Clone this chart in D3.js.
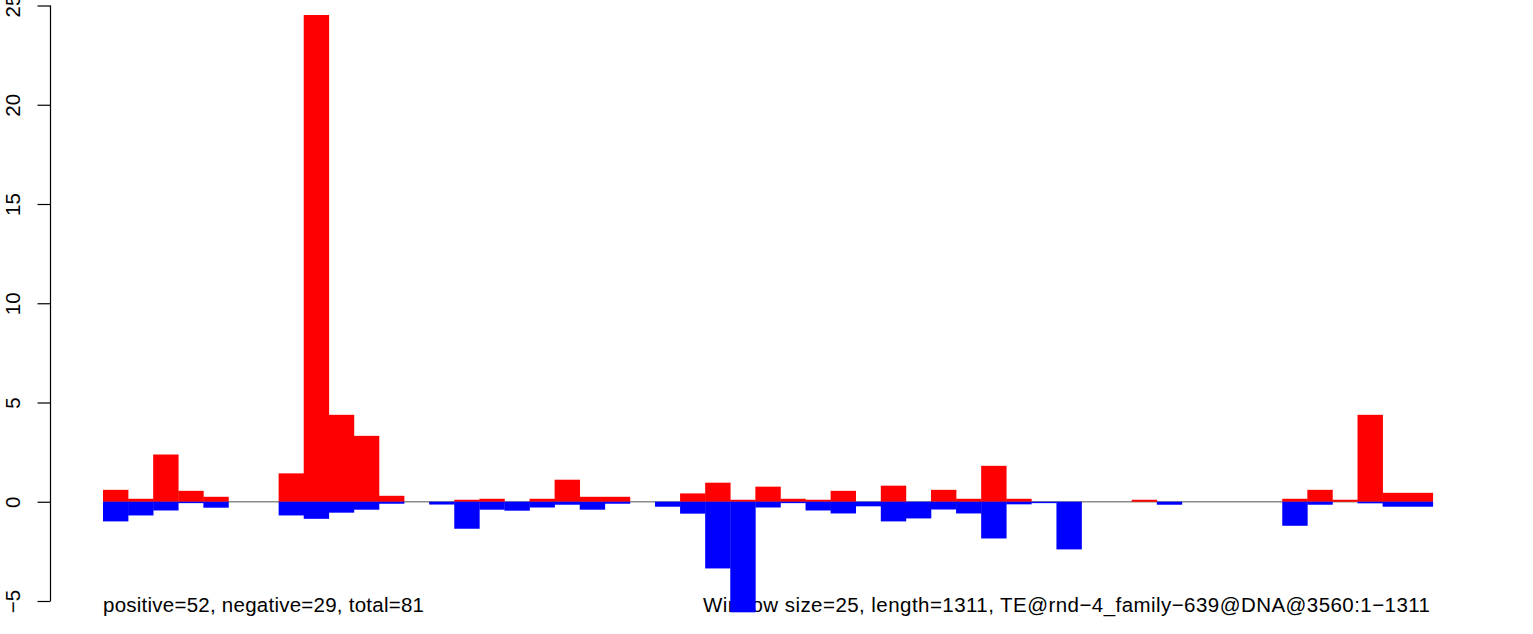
<!DOCTYPE html>
<html><head><meta charset="utf-8">
<script src="https://cdn.jsdelivr.net/npm/d3@7"></script>
<style>body{margin:0;background:#fff}svg{display:block}text{font-family:"Liberation Sans",Arial,sans-serif}</style>
</head><body>
<script>
const positiveValues = [0.60,0.15,2.38,0.55,0.25,0,0,1.43,24.52,4.38,3.32,0.30,0,0,0.10,0.15,0,0.15,1.11,0.25,0.25,0,0,0.42,0.96,0.10,0.76,0.15,0.10,0.55,0,0.81,0,0.60,0.15,1.81,0.15,0,0,0,0,0.10,0,0,0,0,0,0.15,0.60,0.10,4.38,0.45,0.45];
const negativeValues = [-0.99,-0.69,-0.44,-0.07,-0.30,0,0,-0.69,-0.86,-0.55,-0.40,-0.10,0,-0.14,-1.36,-0.40,-0.45,-0.29,-0.15,-0.40,-0.10,0,-0.25,-0.60,-3.36,-5.57,-0.29,-0.07,-0.44,-0.59,-0.23,-0.99,-0.84,-0.39,-0.59,-1.85,-0.13,-0.07,-2.40,0,0,0,-0.15,0,0,0,0,-1.21,-0.15,0,-0.08,-0.25,-0.25];
const yTicks = [-5,0,5,10,15,20,25];
const leftNote = "positive=52, negative=29, total=81";
const rightNote = "Window size=25, length=1311, TE@rnd\u22124_family\u2212639@DNA@3560:1\u22121311";

const W = 1533, H = 634;
const svg = d3.select("body").append("svg").attr("width", W).attr("height", H);
const n = positiveValues.length;
const x = d3.scaleLinear().domain([0, n]).range([103, 1432.8]);
const y = d3.scaleLinear().domain([-5, 25]).range([601, 5.5]);
const FS = 20.5;

// notes (drawn first, bars overlay them)
svg.append("text").attr("x", 103).attr("y", 612).attr("font-size", FS)
  .attr("textLength", 321).attr("lengthAdjust", "spacing").attr("fill", "#000").text(leftNote);
svg.append("text").attr("x", 703).attr("y", 612).attr("font-size", FS)
  .attr("textLength", 727).attr("lengthAdjust", "spacing").attr("fill", "#000").text(rightNote);

// zero line
svg.append("line").attr("x1", x(0)).attr("x2", x(n)).attr("y1", y(0)).attr("y2", y(0))
  .attr("stroke", "#8c8c8c").attr("stroke-width", 1.3);

const idx = d3.range(n);
svg.append("g").selectAll("rect").data(idx.filter(i => positiveValues[i] > 0)).join("rect")
  .attr("x", i => x(i)).attr("width", i => x(i + 1) - x(i) + 0.3)
  .attr("y", i => y(positiveValues[i])).attr("height", i => y(0) - y(positiveValues[i]))
  .attr("fill", "#ff0000");
svg.append("g").selectAll("rect").data(idx.filter(i => negativeValues[i] < 0)).join("rect")
  .attr("x", i => x(i)).attr("width", i => x(i + 1) - x(i) + 0.3)
  .attr("y", y(0)).attr("height", i => y(negativeValues[i]) - y(0))
  .attr("fill", "#0000ff");

// y axis
const ax = svg.append("g").attr("transform", "translate(50.5,0)")
  .call(d3.axisLeft(y).tickValues(yTicks).tickSize(13).tickPadding(0).tickFormat(d => d < 0 ? "\u2212" + Math.abs(d) : d));
ax.select(".domain").attr("stroke", "#000").attr("stroke-width", 1.2).attr("d", `M0,${y(-5)}V${y(25)}`);
ax.selectAll(".tick line").attr("stroke", "#000").attr("stroke-width", 1.2);
ax.selectAll(".tick text").attr("font-size", FS).attr("fill", "#000")
  .attr("x", null).attr("dy", null).attr("text-anchor", "middle")
  .attr("transform", "translate(-30.5,0) rotate(-90)").attr("y", 0);
</script>
</body></html>
